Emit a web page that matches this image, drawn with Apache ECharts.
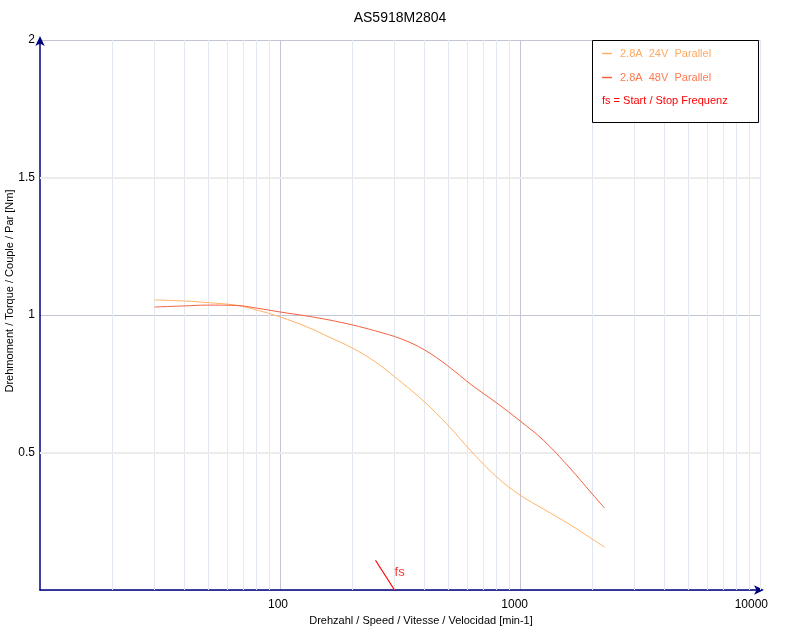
<!DOCTYPE html>
<html>
<head>
<meta charset="utf-8">
<script src="https://cdn.jsdelivr.net/npm/echarts@6/dist/echarts.min.js"></script>
<style>html,body{margin:0;padding:0;background:#fff;}#c{width:800px;height:630px;}</style>
</head>
<body>
<div id="c"></div>
<script>
var titleText = 'AS5918M2804';
var xName = 'Drehzahl / Speed / Vitesse / Velocidad [min-1]';
var yName = 'Drehmoment / Torque / Couple / Par [Nm]';
var name24 = '2.8A  24V  Parallel';
var name48 = '2.8A  48V  Parallel';
var fsLegendText = 'fs = Start / Stop Frequenz';
var fsLabel = 'fs';

var speeds = [30, 40, 50, 65, 80, 100, 130, 160, 200, 250, 320, 400, 500, 630, 800, 1000, 1250, 1600, 2000, 2250];
var torque24 = [1.055, 1.051, 1.045, 1.036, 1.018, 0.993, 0.956, 0.92, 0.88, 0.829, 0.756, 0.684, 0.60, 0.502, 0.411, 0.345, 0.295, 0.24, 0.185, 0.156];
var torque48 = [1.029, 1.033, 1.036, 1.035, 1.025, 1.011, 0.996, 0.982, 0.964, 0.942, 0.913, 0.873, 0.815, 0.745, 0.68, 0.615, 0.545, 0.447, 0.349, 0.298];

var fsSpeed = [250, 300];
var fsTorque = [0.108, 0];
var fsLabelPos = [315, 0.064];

var minorX = [20, 30, 40, 50, 60, 70, 80, 90, 200, 300, 400, 500, 600, 700, 800, 900, 2000, 3000, 4000, 5000, 6000, 7000, 8000, 9000, 10000];
var minorY = [0.5, 1.5];

function pairs(xs, ys) { return xs.map(function (x, i) { return [x, ys[i]]; }); }

var chart = echarts.init(document.getElementById('c'), null, { renderer: 'canvas' });
var font = 'Arial, "Liberation Sans", sans-serif';
chart.setOption({
  animation: false,
  backgroundColor: '#ffffff',
  textStyle: { fontFamily: font },
  title: {
    text: titleText, left: 'center', top: 6,
    textStyle: { fontSize: 14, fontWeight: 'normal', color: '#000', fontFamily: font }
  },
  grid: { left: 40, right: 40, top: 40, bottom: 40, containLabel: false, outerBoundsMode: 'none' },
  legend: {
    orient: 'vertical', left: 602, top: 48, padding: 0, itemWidth: 10, itemHeight: 1.5, itemGap: 13,
    icon: 'rect', selectedMode: false,
    textStyle: { fontSize: 11, fontFamily: font, padding: [0, 0, 0, 3] },
    data: [
      { name: name24, textStyle: { color: '#FFA95E' } },
      { name: name48, textStyle: { color: '#FF7A50' } }
    ],
    z: 20
  },
  graphic: [
    { type: 'rect', left: 592, top: 40, z: 10, shape: { width: 166, height: 82 },
      style: { fill: '#fff', stroke: '#000', lineWidth: 1 } },
    { type: 'text', left: 602, top: 95, z: 11,
      style: { text: fsLegendText, fill: '#FF0000', font: '11px ' + font } }
  ],
  xAxis: {
    type: 'log', logBase: 10, min: 10, max: 10000,
    name: xName, nameLocation: 'middle', nameGap: 25, nameMoveOverlap: false,
    nameTextStyle: { fontSize: 11, color: '#000', fontFamily: font, padding: [0, 0, 0, 42] },
    axisLine: { show: true, lineStyle: { color: '#000080', width: 1.5 }, symbol: ['none', 'arrow'], symbolSize: [7, 10], symbolOffset: [0, 4] },
    axisTick: { show: false },
    axisLabel: {
      fontSize: 12, color: '#000', margin: 9, fontFamily: font, align: 'right', padding: [0, -8, 0, 0],
      formatter: function (v) { var r = Math.round(v); return r === 10 ? '' : String(r); }
    },
    splitLine: { show: true, showMinLine: false, showMaxLine: false, lineStyle: { color: '#c4c4d4', width: 1 } },
    minorTick: { show: false }, minorSplitLine: { show: false }
  },
  yAxis: {
    type: 'value', min: 0, max: 2, interval: 0.5,
    name: yName, nameLocation: 'middle', nameGap: 25, nameMoveOverlap: false,
    nameTextStyle: { fontSize: 11, color: '#000', fontFamily: font, padding: [0, 0, 0, 48] },
    axisLine: { show: true, lineStyle: { color: '#000080', width: 1.5 }, symbol: ['none', 'arrow'], symbolSize: [7, 10], symbolOffset: [0, 4] },
    axisTick: { show: false },
    axisLabel: {
      fontSize: 12, color: '#000', margin: 5, fontFamily: font,
      formatter: function (v) { return v === 0 ? '' : String(v); }
    },
    splitLine: { show: true, lineStyle: { color: ['#c4c4d4', 'rgba(0,0,0,0)'], width: 1 } }
  },
  series: [
    {
      name: 'grid-minor', type: 'line', data: [], z: 1, silent: true,
      markLine: {
        silent: true, symbol: ['none', 'none'], label: { show: false }, animation: false,
        lineStyle: { color: '#e2e8f0', width: 1, type: 'solid' },
        data: minorX.map(function (x) { return { xAxis: x }; }).concat(
          minorY.map(function (y) { return { yAxis: y, lineStyle: { color: '#ececec', width: 2, type: 'solid' } }; }))
      }
    },
    {
      name: name24, type: 'line', data: pairs(speeds, torque24), smooth: 0.4,
      showSymbol: false, symbol: 'none', z: 5,
      lineStyle: { color: '#FFB366', width: 1 }, itemStyle: { color: '#FFB366' }
    },
    {
      name: name48, type: 'line', data: pairs(speeds, torque48), smooth: 0.4,
      showSymbol: false, symbol: 'none', z: 5,
      lineStyle: { color: '#F5603F', width: 1 }, itemStyle: { color: '#F5603F' }
    },
    {
      name: 'fs-line', type: 'line', data: pairs(fsSpeed, fsTorque),
      showSymbol: false, symbol: 'none', z: 6,
      lineStyle: { color: '#FF0000', width: 1.2 }
    },
    {
      name: 'fs-label', type: 'scatter', data: [fsLabelPos], symbolSize: 0, z: 6,
      label: { show: true, position: 'inside', formatter: fsLabel, color: '#FF0000', fontSize: 13, fontFamily: font }
    }
  ]
});
</script>
</body>
</html>
